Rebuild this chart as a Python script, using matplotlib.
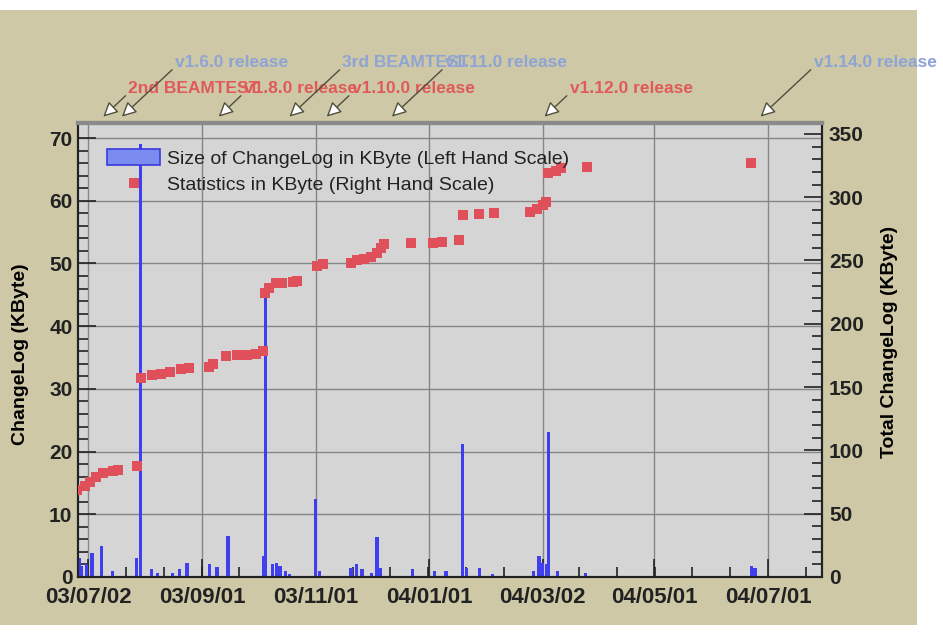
import numpy as np
import pandas as pd
import matplotlib
matplotlib.use("Agg")
import matplotlib.pyplot as plt
import matplotlib.dates as mdates
from matplotlib.patches import Patch, Rectangle
from matplotlib.lines import Line2D

plt.rcParams['font.family'] = ['Liberation Sans', 'DejaVu Sans']

# daily size of ChangeLog commits (KByte, left scale)
bar_dates = ['2003-06-27', '2003-06-28', '2003-07-01', '2003-07-04', '2003-07-09',
             '2003-07-15', '2003-07-28', '2003-07-30', '2003-08-05', '2003-08-08',
             '2003-08-16', '2003-08-20', '2003-08-24', '2003-09-05', '2003-09-09',
             '2003-09-15', '2003-10-04', '2003-10-05', '2003-10-09', '2003-10-11',
             '2003-10-13', '2003-10-16', '2003-10-18', '2003-11-01', '2003-11-03',
             '2003-11-20', '2003-11-23', '2003-11-26', '2003-12-01', '2003-12-04',
             '2003-12-06', '2003-12-23', '2004-01-04', '2004-01-10', '2004-01-19',
             '2004-01-21', '2004-01-28', '2004-02-04', '2004-02-26', '2004-02-29',
             '2004-03-02', '2004-03-04', '2004-03-05', '2004-03-10', '2004-03-25',
             '2004-06-22', '2004-06-24']
bar_kb = [3.1, 1.8, 2.0, 3.9, 5.0,
          1.0, 3.1, 69.0, 1.2, 0.7,
          0.7, 1.3, 2.3, 2.1, 1.6,
          6.5, 3.4, 45.0, 2.0, 2.2,
          1.8, 0.9, 0.5, 12.4, 1.0,
          1.5, 2.0, 1.2, 0.7, 6.4,
          1.5, 1.2, 1.0, 0.9, 21.2,
          1.5, 1.5, 0.5, 1.0, 3.4,
          2.3, 2.0, 23.2, 1.0, 0.7,
          1.8, 1.5]

# running total of the ChangeLog (KByte, right scale)
total_dates = ['2003-06-26', '2003-06-30', '2003-07-03', '2003-07-06', '2003-07-10',
               '2003-07-15', '2003-07-18', '2003-07-28', '2003-07-30', '2003-08-05',
               '2003-08-10', '2003-08-15', '2003-08-21', '2003-08-25', '2003-09-05',
               '2003-09-07', '2003-09-14', '2003-09-20', '2003-09-25', '2003-09-30',
               '2003-10-04', '2003-10-05', '2003-10-07', '2003-10-11', '2003-10-14',
               '2003-10-20', '2003-10-22', '2003-11-02', '2003-11-05', '2003-11-20',
               '2003-11-23', '2003-11-27', '2003-12-01', '2003-12-04', '2003-12-06',
               '2003-12-08', '2003-12-22', '2004-01-03', '2004-01-08', '2004-01-17',
               '2004-01-19', '2004-01-28', '2004-02-05', '2004-02-24', '2004-02-28',
               '2004-03-02', '2004-03-04', '2004-03-05', '2004-03-09', '2004-03-12',
               '2004-03-26', '2004-06-22']
total_kb = [69, 71.5, 75, 79, 82.5,
            84, 84.5, 88, 157, 159.5,
            160.5, 162, 164, 165, 166,
            168, 174.5, 175, 175.5, 176.5,
            178.5, 224, 228, 232, 232.5,
            233, 233.5, 246, 247.5, 248,
            250, 251.5, 253, 256, 260,
            263, 263.5, 264, 265, 266,
            286, 287, 287.5, 288.5, 291,
            293.5, 296, 319, 321, 323,
            324, 327]

# release / beamtest markers
event_dates = ['2003-07-10', '2003-07-20', '2003-09-10', '2003-10-18',
               '2003-11-07', '2003-12-12', '2004-03-03', '2004-06-27']
event_labels = ['2nd BEAMTEST', 'v1.6.0 release', 'v1.8.0 release', '3rd BEAMTEST',
                'v1.10.0 release', 'v1.11.0 release', 'v1.12.0 release', 'v1.14.0 release']

tick_dates = ['2003-07-02', '2003-09-01', '2003-11-01', '2004-01-01',
              '2004-03-02', '2004-05-01', '2004-07-01']
tick_labels = ['03/07/02', '03/09/01', '03/11/01', '04/01/01',
               '04/03/02', '04/05/01', '04/07/01']

tan = '#cec8a7'
fig = plt.figure(figsize=(9.43, 6.35), dpi=100, facecolor='white')
fig.patches.append(Rectangle((0, 10 / 635), 917 / 943, 615 / 635, transform=fig.transFigure,
                             facecolor=tan, edgecolor='none', zorder=-10))

ax = fig.add_axes([78 / 943, 1 - 577 / 635, 744 / 943, 454 / 635])
ax.set_facecolor('#d5d5d5')
ax2 = ax.twinx()

bd = pd.to_datetime(bar_dates)
ax.bar(bd, bar_kb, width=1.8, color='#3f3ff0', linewidth=0, zorder=3)

td = pd.to_datetime(total_dates)
ax2.plot(td, total_kb, 's', color='#e0505a', markersize=6.5, markeredgewidth=0, zorder=4)

xmin = pd.Timestamp('2003-06-26 10:00')
xmax = pd.Timestamp('2004-07-30')
ax.set_xlim(xmin, xmax)
ax.set_ylim(0, 72.4)
ax2.set_ylim(0, 358.6)

# ticks
major = pd.to_datetime(tick_dates)
ax.set_xticks(major)
ax.set_xticklabels(tick_labels)
mnum = mdates.date2num(major)
step = np.diff(mnum).mean() / 3
minor = np.arange(mnum[0] - 3 * step, mnum[-1] + 3 * step, step)
minor = minor[(minor > mdates.date2num(xmin)) & (minor < mdates.date2num(xmax))]
ax.set_xticks(minor, minor=True)

ax.set_yticks(np.arange(0, 71, 10))
ax.set_yticks(np.arange(0, 72, 2), minor=True)
ax2.set_yticks(np.arange(0, 351, 50))
ax2.set_yticks(np.arange(0, 358, 10), minor=True)

for a in (ax, ax2):
    a.tick_params(which='both', direction='in', colors='#222222', width=1.2)
    a.tick_params(which='major', length=13)
    a.tick_params(which='minor', length=7)
ax.tick_params(axis='x', labelsize=16, pad=7)
ax.tick_params(axis='y', labelsize=15, pad=4)
ax2.tick_params(axis='y', labelsize=15, pad=5)
for t in ax.get_xticklabels() + ax.get_yticklabels() + ax2.get_yticklabels():
    t.set_fontweight('bold')

ax.grid(True, which='major', color='#858585', linewidth=1.0, zorder=1)
ax.set_axisbelow(True)

for a in (ax, ax2):
    for s in ('left', 'right', 'bottom'):
        a.spines[s].set_linewidth(1.5)
        a.spines[s].set_color('#222222')
    a.spines['top'].set_color('#8a8a8a')
    a.spines['top'].set_linewidth(3)

ax.set_ylabel('ChangeLog (KByte)', fontsize=14, fontweight='bold')
ax.yaxis.set_label_coords(-0.066, 0.49)
ax2.set_ylabel('Total ChangeLog (KByte)', fontsize=14, fontweight='bold')
ax2.yaxis.set_label_coords(1.079, 0.517)

# legend
handles = [Patch(facecolor='#7b8cf0', edgecolor='#3a3ae0', linewidth=1.2),
           Line2D([], [], marker='s', linestyle='none', color='#e0505a',
                  markersize=6.5, markeredgewidth=0)]
labels = ['Size of ChangeLog in KByte (Left Hand Scale)',
          'Statistics in KByte (Right Hand Scale)']
leg = ax2.legend(handles, labels, loc='upper left', bbox_to_anchor=(0.029, 0.96),
                 frameon=False, fontsize=14, handlelength=2.7, handleheight=0.9,
                 handletextpad=0.35, labelspacing=0.4, borderaxespad=0)
for t in leg.get_texts():
    t.set_color('#222222')

# annotations
ed = pd.to_datetime(event_dates)
for i, (d, lab) in enumerate(zip(ed, event_labels)):
    if i % 2 == 0:
        col, off = '#e05a5a', (25, 28)
    else:
        col, off = '#8ea4d4', (53, 54)
    ax.annotate(lab, xy=(d, 1.014), xycoords=('data', 'axes fraction'),
                xytext=off, textcoords='offset pixels', ha='left', va='center',
                color=col, fontsize=12.5, fontweight='bold', annotation_clip=False,
                arrowprops=dict(arrowstyle='-|>,head_length=0.7,head_width=0.35',
                                fc='white', ec='#4f4f3c', lw=1.0, relpos=(0, 0.2),
                                shrinkA=0, shrinkB=0))

fig.savefig('out.png', dpi=100, facecolor=fig.get_facecolor())
